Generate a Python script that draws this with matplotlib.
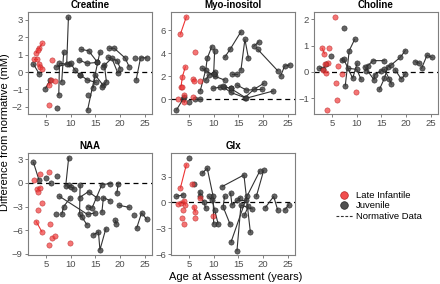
import matplotlib
matplotlib.use("Agg")
import matplotlib.pyplot as plt
from matplotlib.lines import Line2D

plt.rcParams['font.family'] = ['Liberation Sans', 'DejaVu Sans']

# each track = one subject's repeated visits (age, difference from normative)
creatine_juv = [
    [(2.5, 0.45), (3.7, -0.12)], [(4.9, -0.95), (5.9, -0.45)], [(7.2, -2.05)],
    [(7.6, -1.33), (7.75, 0.5), (9.6, 0.45)], [(8.2, -0.55), (8.6, 1.15)],
    [(9.2, 0.45), (9.55, 3.15)], [(7.1, 0.3), (10.0, 0.5), (10.9, 0.1), (11.9, -0.17)],
    [(11.7, 0.69), (13.3, 0.5), (15.3, 0.55)], [(12.1, 1.3), (13.6, 1.23), (15.3, 0.6)],
    [(13.4, -2.2), (15.9, 1.15)], [(13.4, -1.33)], [(11.9, -0.15), (13.3, -0.45), (15.1, -0.6)],
    [(14.6, -0.9), (14.9, -0.15), (16.5, -0.75)], [(16.3, -0.85), (17.2, -0.55), (16.8, 0.4)],
    [(17.8, 1.37), (18.8, 1.37), (21.0, 0.8), (21.8, 0.3)], [(17.6, 0.85), (19.4, 0.65), (20.0, 0.2)],
    [(16.5, 0.3), (18.3, 0.8), (19.5, -0.05)], [(22.9, 0.78)],
    [(23.2, -0.45), (24.1, 0.82), (25.3, 0.82)],
]
creatine_li = [
    [(3.05, 1.1), (3.7, 1.4), (4.3, 1.65)], [(3.4, 1.25)], [(2.6, 0.75), (3.3, 0.75)],
    [(3.6, 0.45), (3.9, 0.3)], [(4.2, 0.15)], [(6.2, 0.7)], [(6.05, -0.45), (5.7, -0.75)],
    [(6.9, -0.5)], [(5.6, -1.9)],
]

myo_juv = [
    [(2.5, -0.92), (3.8, 0.0)], [(4.1, 0.17)], [(5.0, -0.2)], [(6.3, 0.0), (7.3, 0.0)],
    [(7.3, 0.75), (8.4, 2.54), (8.7, 3.54), (9.6, 4.55)], [(7.7, 2.68), (10.2, 2.0), (12.2, 1.67)],
    [(8.4, 1.67), (9.0, 2.1), (10.2, 2.4)], [(10.2, 4.2), (10.0, 2.2)],
    [(9.8, 0.95), (11.2, 1.04), (12.0, 1.1), (13.5, 0.95)],
    [(11.8, 1.15), (13.4, 0.6), (16.3, 0.15), (18.1, 0.86), (20.1, 1.38)],
    [(14.7, 1.24), (16.6, 0.8), (19.8, 0.86)], [(13.4, 0.95), (16.6, 0.1), (22.0, 0.72)],
    [(12.2, 3.63), (13.3, 4.32), (15.5, 5.85)], [(13.6, 2.19), (14.7, 2.19)],
    [(15.5, 2.54), (16.3, 5.19), (17.0, 3.6)], [(18.1, 4.6), (19.1, 4.98)],
    [(18.9, 4.32), (22.9, 2.48)], [(23.5, 2.02), (24.3, 2.88), (25.3, 2.97)],
]
myo_li = [
    [(3.3, 5.65), (4.5, 7.15)], [(3.4, 1.05), (3.7, 1.96), (4.3, 2.82)], [(3.6, 1.05)],
    [(2.8, 0.0)], [(4.0, 0.37), (4.0, -0.2)], [(5.9, 0.23)], [(6.3, 4.1)],
    [(5.9, 1.73), (6.1, 1.6)], [(7.2, 1.6)],
]

choline_juv = [
    [(2.5, 0.14), (3.2, 0.12), (3.9, 0.3)], [(4.9, 0.6)], [(7.35, 1.66)],
    [(7.0, 0.45), (7.4, 0.48), (9.2, -0.24), (10.1, 0.33)], [(7.7, -0.53), (8.5, 0.81), (9.6, 1.24)],
    [(8.2, 0.14), (10.0, 0.1), (10.9, -0.28)], [(11.8, 0.05), (12.2, 0.23), (13.3, 0.43), (15.6, 0.43)],
    [(11.6, 0.2), (13.5, -0.3), (13.6, -0.11), (15.0, 0.05)],
    [(14.6, -0.66), (15.6, -0.24), (16.3, 0.2), (17.0, 0.27), (18.8, 0.56), (19.8, 0.81)],
    [(21.8, 0.39), (22.65, 0.33)], [(15.6, 0.1), (16.6, -0.28), (17.0, -0.46)],
    [(17.75, 0.08), (19.0, -0.27), (19.8, -0.08)], [(23.1, 0.14), (24.2, 0.64), (25.2, 0.55)],
]
choline_li = [
    [(5.67, 2.08)], [(3.05, 0.9), (3.5, 0.7)], [(4.4, 0.9)], [(4.3, 0.33), (3.66, 0.3)],
    [(3.2, 0.08), (3.86, -0.03)], [(6.2, 0.23)], [(7.0, -0.08)], [(5.9, -0.43)],
    [(6.1, -1.06)], [(4.0, -1.44)], [(9.9, -0.78)],
]

naa_juv = [
    [(2.5, 2.6), (3.6, 0.4)], [(5.0, 0.6)], [(6.0, -0.05)], [(7.2, 0.9)],
    [(9.0, -0.4), (9.6, 3.2)], [(7.75, -1.7), (13.4, -4.0), (14.9, -3.8)], [(7.1, -3.9)],
    [(8.2, -4.0), (8.6, -3.0), (9.9, -1.9)], [(9.6, -0.3), (10.0, -0.5), (10.7, -0.75)],
    [(11.8, -1.85), (13.6, -1.1), (15.3, -1.9)], [(11.9, -0.25), (11.8, -3.9), (12.2, -4.3), (13.3, -5.3)],
    [(13.4, -3.0), (14.3, -3.2), (16.3, -0.2), (17.9, -0.1)],
    [(14.6, -6.6), (15.6, -6.2), (15.9, -8.5), (17.1, -5.8)],
    [(16.3, -3.7), (16.6, -1.85), (17.9, -2.25)], [(19.6, -0.1), (19.3, -1.3)],
    [(19.8, -2.85), (21.8, -3.1)], [(19.0, -4.75), (19.2, -5.2)], [(22.7, -4.1)],
    [(23.3, -5.75), (24.3, -3.8), (25.3, -4.6)],
]
naa_li = [
    [(2.7, 0.35)], [(3.9, 1.1)], [(5.7, 1.4)], [(3.3, -0.75), (3.9, -0.6)], [(3.5, -1.2)],
    [(3.5, -3.4)], [(4.2, -2.6)], [(3.05, -4.9), (4.2, -6.2)], [(5.9, -5.2)],
    [(6.2, -7.05)], [(6.9, -6.7)], [(5.7, -7.9)], [(9.8, -7.6)],
]

glx_juv = [
    [(2.5, 0.7), (3.85, 0.9)], [(5.0, 5.2)], [(6.0, 2.1)],
    [(7.2, 1.25), (7.3, 0.7), (8.0, 0.1), (8.4, -0.65)],
    [(7.7, 3.4), (8.7, 4.0), (9.9, 0.7), (10.0, -2.5)],
    [(9.0, 0.7), (9.7, 0.3), (10.2, -0.85), (10.9, -2.5)],
    [(11.7, 1.85), (16.1, 3.2), (17.4, -3.45)], [(12.2, 0.7), (11.9, -0.5), (13.3, -2.5)],
    [(13.4, 1.1), (13.7, -0.3), (15.4, 0.55)], [(13.5, -4.6), (16.7, 0.7), (19.3, 3.65)],
    [(14.7, -5.6), (15.5, -0.3), (17.8, -0.75)], [(16.2, -1.5), (17.0, -0.4)],
    [(18.6, 0.7), (20.1, 3.75)], [(20.4, -0.6), (22.1, 0.7), (22.9, -0.85)],
    [(24.3, -0.85), (25.1, -0.3)], [(14.7, 0.3), (16.6, 0.3)],
]
glx_li = [
    [(3.3, 1.7), (4.5, 4.4)], [(2.8, -0.15), (3.5, -0.1)], [(4.0, 0.2), (4.3, -0.3)],
    [(3.9, -0.85)], [(3.7, -1.8)], [(4.0, -2.5)], [(6.0, -0.5), (6.3, -1.1)], [(6.2, -1.8)],
    [(5.7, 2.1)], [(7.2, 0.5)], [(9.9, -1.55)],
]

titles = ["Creatine", "Myo-inositol", "Choline", "NAA", "Glx"]
juv_data = [creatine_juv, myo_juv, choline_juv, naa_juv, glx_juv]
li_data = [creatine_li, myo_li, choline_li, naa_li, glx_li]
yticks = [[-2, -1, 0, 1, 2, 3], [0, 2, 4, 6], [-1, 0, 1, 2], [-9, -6, -3, 0, 3], [-6, -3, 0, 3]]
ylims = [(-2.42, 3.46), (-1.27, 7.56), (-1.6, 2.28), (-9.15, 3.8), (-6.1, 5.75)]

W, H = 440, 284
fig = plt.figure(figsize=(4.4, 2.84), dpi=100)

# panel boxes in pixels: left, top
lefts = [28, 171, 314, 28, 171]
tops = [12, 12, 12, 153, 153]
pw, ph = 124, 102

grey = '#7f7f7f'
for i in range(5):
    ax = fig.add_axes([lefts[i] / W, (H - tops[i] - ph) / H, pw / W, ph / H])
    ax.axhline(0, color='black', linestyle=(0, (4, 3)), linewidth=0.9, zorder=1)
    for tr in juv_data[i]:
        xs = [p[0] for p in tr]
        ys = [p[1] for p in tr]
        ax.plot(xs, ys, color='#333333', linewidth=0.8, zorder=2)
        ax.plot(xs, ys, linestyle='none', marker='o', markersize=3.8,
                markerfacecolor='#3d3d3d', markeredgecolor='#1a1a1a',
                markeredgewidth=0.4, alpha=0.8, zorder=3)
    for tr in li_data[i]:
        xs = [p[0] for p in tr]
        ys = [p[1] for p in tr]
        ax.plot(xs, ys, color='#ee3333', linewidth=0.8, zorder=2)
        ax.plot(xs, ys, linestyle='none', marker='o', markersize=3.8,
                markerfacecolor='#f03a3a', markeredgecolor='#b01818',
                markeredgewidth=0.4, alpha=0.7, zorder=3)
    ax.set_xlim(1.4, 26.4)
    ax.set_ylim(*ylims[i])
    ax.set_xticks([5, 10, 15, 20, 25])
    ax.set_yticks(yticks[i])
    ax.tick_params(colors=grey, labelcolor='#4d4d4d', labelsize=6.8,
                   length=2.5, width=0.7, pad=1.2)
    for s in ax.spines.values():
        s.set_color(grey)
        s.set_linewidth(0.8)
    ax.set_title(titles[i], fontsize=7, fontweight='bold', pad=3)

fig.text(5.5 / W, 1 - 132 / H, "Difference from normative (mM)", rotation=90,
         ha='center', va='center', fontsize=8)
fig.text(236 / W, 1 - 277 / H, "Age at Assessment (years)", ha='center', va='center', fontsize=8)

handles = [
    Line2D([], [], linestyle='none', marker='o', markersize=5.5, markerfacecolor='#f03a3a',
           markeredgecolor='#b01818', markeredgewidth=0.5, alpha=0.9),
    Line2D([], [], linestyle='none', marker='o', markersize=5.5, markerfacecolor='#3d3d3d',
           markeredgecolor='#1a1a1a', markeredgewidth=0.5, alpha=0.9),
    Line2D([], [], color='#333333', linestyle=(0, (2.5, 1.5)), linewidth=0.8),
]
fig.legend(handles, ["Late Infantile", "Juvenile", "Normative Data"],
           loc='center left', bbox_to_anchor=(331 / W, 1 - 206 / H), frameon=False,
           fontsize=6.8, handlelength=1.8, handletextpad=0.3, labelspacing=0.15,
           borderpad=0)

fig.savefig("out.png", dpi=100)
